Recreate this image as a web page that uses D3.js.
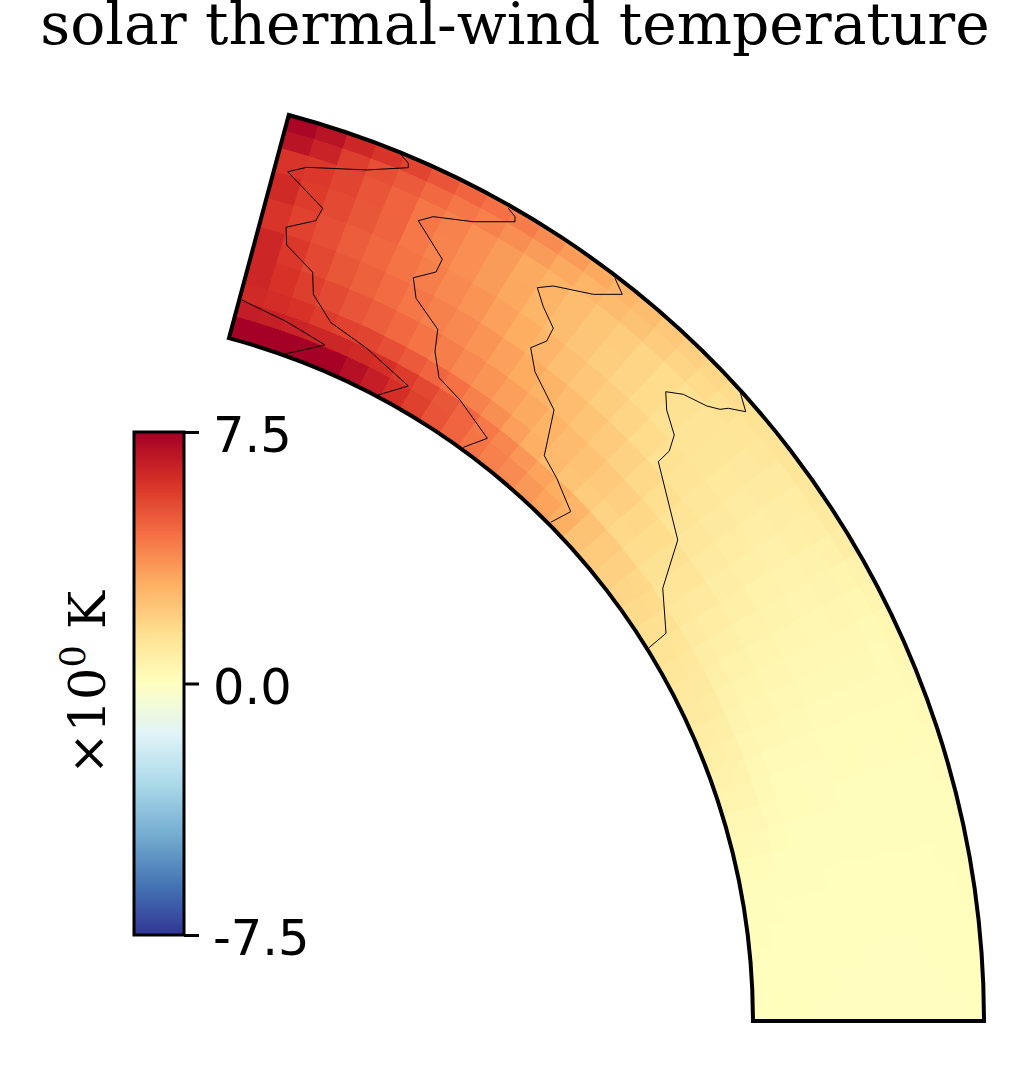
<!DOCTYPE html>
<html>
<head>
<meta charset="utf-8">
<script src="https://cdn.jsdelivr.net/npm/d3@7"></script>
<style>
  html, body { margin: 0; padding: 0; background: #fff; }
  svg { display: block; }
</style>
</head>
<body>
<script>
const titleText = 'solar thermal-wind temperature';
const unitBase = '×10', unitExp = '0', unitName = 'K';

// colour limits and tick labels
const colorLimits = [-7.5, 7.5];
const cbarTicks = [-7.5, 0, 7.5];
const cbarLabels = ['-7.5', '0.0', '7.5'];

// RdYlBu_r stops
const cmapColors = ['#313695', '#4575b4', '#74add1', '#abd9e9', '#e0f3f8', '#ffffbf', '#fee090', '#fdae61', '#f46d43', '#d73027', '#a50026'];

// cell edges: latitude in degrees, radius in units of the outer radius
const latEdges = [0, 1.875, 3.75, 5.625, 7.5, 9.375, 11.25, 13.125, 15, 16.875, 18.75, 20.625, 22.5, 24.375, 26.25, 28.125, 30, 31.875, 33.75, 35.625, 37.5, 39.375, 41.25, 43.125, 45, 46.875, 48.75, 50.625, 52.5, 54.375, 56.25, 58.125, 60, 61.875, 63.75, 65.625, 67.5, 69.375, 71.25, 73.125, 75];
const radEdges = [0.7537, 0.760, 0.778, 0.795, 0.815, 0.845, 0.877, 0.909, 0.938, 0.964, 0.983, 0.996, 1.0];

// temperature in K, one line per radius (inner to outer), one value per latitude cell
const temp0 = [0.06, 0.06, 0.07, 0.08, 0.1, 0.12, 0.2, 0.3, 0.4, 0.52, 0.64, 0.76, 0.88, 0.98, 1.08, 1.2, 1.35, 1.5, 1.66, 1.82, 1.98, 2.16, 2.4, 3.0, 3.3, 3.55, 3.85, 4.1, 4.4, 4.75, 5.15, 5.6, 6.1, 6.6, 7.0, 7.5, 7.6, 7.6, 7.6, 7.7];
const temp1 = [0.06, 0.06, 0.06, 0.08, 0.09, 0.11, 0.19, 0.29, 0.38, 0.5, 0.62, 0.74, 0.86, 0.96, 1.06, 1.18, 1.32, 1.48, 1.64, 1.8, 1.97, 2.15, 2.38, 2.95, 3.25, 3.5, 3.8, 4.05, 4.35, 4.72, 5.12, 5.58, 6.05, 6.55, 7.0, 7.45, 7.6, 7.6, 7.6, 7.6];
const temp2 = [0.05, 0.05, 0.06, 0.07, 0.08, 0.1, 0.17, 0.27, 0.36, 0.46, 0.56, 0.66, 0.78, 0.9, 1.02, 1.1, 1.28, 1.45, 1.62, 1.78, 1.95, 2.14, 2.4, 2.75, 3.0, 3.25, 3.55, 3.9, 4.25, 4.7, 5.05, 5.4, 5.7, 6.05, 6.2, 6.3, 6.3, 6.4, 6.5, 6.6];
const temp3 = [0.05, 0.05, 0.05, 0.06, 0.07, 0.09, 0.11, 0.16, 0.22, 0.28, 0.34, 0.43, 0.52, 0.62, 0.73, 0.85, 0.98, 1.12, 1.28, 1.42, 1.55, 1.72, 1.88, 2.1, 2.35, 2.65, 2.95, 3.35, 3.75, 4.05, 4.4, 4.7, 4.95, 5.25, 5.5, 5.55, 5.7, 5.95, 6.1, 6.2];
const temp4 = [0.04, 0.05, 0.05, 0.06, 0.06, 0.08, 0.1, 0.12, 0.15, 0.2, 0.26, 0.33, 0.42, 0.5, 0.6, 0.72, 0.88, 1.05, 1.25, 1.42, 1.6, 1.78, 2.0, 2.2, 2.4, 2.62, 2.82, 3.1, 3.35, 3.6, 3.85, 4.1, 4.35, 4.6, 4.85, 5.1, 5.35, 5.65, 5.95, 6.3];
const temp5 = [0.04, 0.04, 0.05, 0.05, 0.06, 0.07, 0.09, 0.11, 0.13, 0.17, 0.22, 0.28, 0.35, 0.42, 0.5, 0.6, 0.72, 0.85, 1.0, 1.18, 1.32, 1.5, 1.7, 1.92, 2.12, 2.35, 2.58, 2.82, 3.05, 3.3, 3.6, 3.85, 4.05, 4.3, 4.55, 4.8, 5.05, 5.4, 5.8, 6.3];
const temp6 = [0.04, 0.04, 0.04, 0.05, 0.06, 0.07, 0.08, 0.1, 0.12, 0.15, 0.19, 0.24, 0.3, 0.37, 0.44, 0.53, 0.63, 0.75, 0.88, 1.02, 1.18, 1.3, 1.42, 1.62, 1.85, 2.05, 2.28, 2.5, 2.75, 3.0, 3.3, 3.6, 3.85, 4.1, 4.35, 4.65, 4.9, 5.25, 5.55, 5.9];
const temp7 = [0.04, 0.04, 0.04, 0.05, 0.05, 0.06, 0.08, 0.09, 0.11, 0.14, 0.18, 0.22, 0.28, 0.34, 0.41, 0.49, 0.58, 0.68, 0.8, 0.93, 1.07, 1.2, 1.32, 1.42, 1.62, 1.82, 2.05, 2.3, 2.55, 2.8, 3.12, 3.42, 3.72, 4.0, 4.25, 4.75, 5.05, 5.35, 5.7, 6.2];
const temp8 = [0.04, 0.04, 0.05, 0.05, 0.06, 0.07, 0.08, 0.1, 0.12, 0.15, 0.19, 0.24, 0.3, 0.36, 0.44, 0.52, 0.62, 0.72, 0.84, 0.98, 1.1, 1.22, 1.32, 1.42, 1.6, 1.85, 2.1, 2.32, 2.58, 2.82, 3.1, 3.42, 3.72, 4.02, 4.3, 4.75, 5.1, 5.5, 5.8, 5.9];
const temp9 = [0.04, 0.05, 0.05, 0.06, 0.07, 0.08, 0.09, 0.1, 0.11, 0.14, 0.18, 0.22, 0.24, 0.3, 0.4, 0.5, 0.66, 0.76, 0.88, 1.0, 1.14, 1.28, 1.4, 1.62, 1.85, 2.1, 2.38, 2.62, 2.8, 3.1, 3.42, 3.75, 4.05, 4.3, 4.6, 4.95, 5.25, 5.65, 6.4, 6.9];
const temp10 = [0.05, 0.05, 0.06, 0.07, 0.08, 0.1, 0.11, 0.12, 0.14, 0.18, 0.22, 0.27, 0.33, 0.4, 0.5, 0.62, 0.84, 0.96, 1.1, 1.22, 1.3, 1.36, 1.55, 1.78, 2.0, 2.25, 2.55, 2.8, 3.1, 3.45, 3.8, 4.12, 4.4, 4.72, 5.1, 5.5, 5.9, 6.3, 6.9, 7.3];
const temp11 = [0.05, 0.06, 0.06, 0.07, 0.09, 0.1, 0.11, 0.12, 0.14, 0.18, 0.22, 0.27, 0.33, 0.4, 0.5, 0.62, 0.82, 0.93, 1.05, 1.18, 1.28, 1.38, 1.45, 1.7, 1.92, 2.18, 2.45, 2.72, 3.0, 3.3, 3.65, 3.98, 4.3, 4.62, 5.0, 5.4, 5.8, 6.25, 6.9, 7.4];
const tempRows = [temp0, temp1, temp2, temp3, temp4, temp5, temp6, temp7, temp8, temp9, temp10, temp11];

// contour lines, [x, y] in the meridional plane, same units as radEdges
const contour70 = [[0.2086, 0.7687], [0.2566, 0.7455], [0.2974, 0.7207], [0.2548, 0.7111]];
const contour56 = [[0.3774, 0.9251], [0.3862, 0.9144], [0.3862, 0.9097], [0.3419, 0.9073], [0.2779, 0.9101], [0.2577, 0.9054], [0.2950, 0.8664], [0.2875, 0.8532], [0.2559, 0.8462], [0.2566, 0.8273], [0.2843, 0.7982], [0.2850, 0.7747], [0.3038, 0.7445], [0.3419, 0.7172], [0.3862, 0.6770], [0.3543, 0.6674]];
const contour42 = [[0.4929, 0.8664], [0.5000, 0.8575], [0.5000, 0.8521], [0.4555, 0.8521], [0.4129, 0.8575], [0.3969, 0.8532], [0.4225, 0.8121], [0.4158, 0.7985], [0.3916, 0.7924], [0.3945, 0.7705], [0.4176, 0.7374], [0.4147, 0.7135], [0.4190, 0.6858], [0.4414, 0.6620], [0.4705, 0.6212], [0.4449, 0.6116]];
const contour28 = [[0.6066, 0.7918], [0.6144, 0.7747], [0.5835, 0.7747], [0.5408, 0.7836], [0.5238, 0.7818], [0.5302, 0.7615], [0.5408, 0.7385], [0.5338, 0.7249], [0.5167, 0.7178], [0.5213, 0.6922], [0.5416, 0.6514], [0.5312, 0.6027], [0.5445, 0.5786], [0.5594, 0.5430], [0.5381, 0.5317]];
const contour14 = [[0.7399, 0.6709], [0.7460, 0.6496], [0.7274, 0.6532], [0.7186, 0.6521], [0.7044, 0.6557], [0.6794, 0.6681], [0.6607, 0.6709], [0.6617, 0.6514], [0.6698, 0.6247], [0.6645, 0.6077], [0.6528, 0.5963], [0.6735, 0.5128], [0.6575, 0.4613], [0.6610, 0.4133], [0.6429, 0.3980]];
const contours = [contour70, contour56, contour42, contour28, contour14];

const svgWidth = 1031,
  svgHeight = 1068;
const svg = d3.select('body').append('svg')
  .attr('width', svgWidth)
  .attr('height', svgHeight);

// plane scales, the wedge centre sits at x = 0, y = 0
const xScale = d3.scaleLinear().domain([0, 1]).range([46, 984]);
const yScale = d3.scaleLinear().domain([0, 1]).range([1021, 83]);
const radScale = d3.scaleLinear().domain([0, 1]).range([0, 938]);
const latScale = d3.scaleLinear().domain([0, 90]).range([Math.PI / 2, 0]);

const colorStops = d3.range(cmapColors.length).map(i => colorLimits[0] + i * (colorLimits[1] - colorLimits[0]) / (cmapColors.length - 1));
const color = d3.scaleLinear().domain(colorStops).range(cmapColors).clamp(true);

const arc = d3.arc();
const wedge = svg.append('g').attr('transform', `translate(${xScale(0)},${yScale(0)})`);

const cells = [];
tempRows.forEach((row, j) => {
  row.forEach((v, i) => {
    cells.push({ j: j, i: i, v: v });
  });
});

wedge.selectAll('path.cell')
  .data(cells)
  .enter()
  .append('path')
  .attr('class', 'cell')
  .attr('d', d => arc({
    innerRadius: radScale(radEdges[d.j]),
    outerRadius: radScale(radEdges[d.j + 1]),
    startAngle: latScale(latEdges[d.i + 1]),
    endAngle: latScale(latEdges[d.i])
  }))
  .attr('fill', d => color(d.v))
  .attr('stroke', d => color(d.v))
  .attr('stroke-width', 0.6)
  .attr('shape-rendering', 'crispEdges');

const line = d3.line().x(d => xScale(d[0])).y(d => yScale(d[1]));
svg.selectAll('path.contour')
  .data(contours)
  .enter()
  .append('path')
  .attr('class', 'contour')
  .attr('d', line)
  .attr('fill', 'none')
  .attr('stroke', '#000')
  .attr('stroke-width', 1);

wedge.append('path')
  .attr('d', arc({
    innerRadius: radScale(radEdges[0]),
    outerRadius: radScale(radEdges[radEdges.length - 1]),
    startAngle: latScale(latEdges[latEdges.length - 1]),
    endAngle: latScale(latEdges[0])
  }))
  .attr('fill', 'none')
  .attr('stroke', '#000')
  .attr('stroke-width', 4)
  .attr('stroke-linejoin', 'miter');

// title
svg.append('text')
  .attr('x', 515)
  .attr('y', 44)
  .attr('text-anchor', 'middle')
  .attr('font-family', '"DejaVu Serif"')
  .attr('font-size', 58.3)
  .text(titleText);

// colour bar
const cbarX = 134, cbarW = 50, cbarTop = 432, cbarBottom = 935;
const cbarScale = d3.scaleLinear().domain(colorLimits).range([cbarBottom, cbarTop]);
const cbar = svg.append('g');
const cbarSteps = d3.range(cbarBottom - cbarTop);
cbar.selectAll('rect')
  .data(cbarSteps)
  .enter()
  .append('rect')
  .attr('x', cbarX)
  .attr('y', d => cbarTop + d)
  .attr('width', cbarW)
  .attr('height', 1.5)
  .attr('fill', d => color(cbarScale.invert(cbarTop + d + 0.5)));
cbar.append('rect')
  .attr('x', cbarX)
  .attr('y', cbarTop)
  .attr('width', cbarW)
  .attr('height', cbarBottom - cbarTop)
  .attr('fill', 'none')
  .attr('stroke', '#000')
  .attr('stroke-width', 3);

const cbarAxis = d3.axisRight(cbarScale)
  .tickValues(cbarTicks)
  .tickFormat((d, i) => cbarLabels[i])
  .tickSize(15)
  .tickPadding(14);
const axisG = svg.append('g')
  .attr('transform', `translate(${cbarX + cbarW},0)`)
  .call(cbarAxis);
axisG.select('.domain').remove();
axisG.selectAll('line').attr('stroke', '#000').attr('stroke-width', 3);
axisG.selectAll('text')
  .attr('fill', '#000')
  .attr('font-family', '"DejaVu Sans"')
  .attr('font-size', 49.5)
  .attr('dy', '0.4em');

const unit = svg.append('text')
  .attr('transform', 'translate(105,683) rotate(-90)')
  .attr('text-anchor', 'middle')
  .attr('font-family', '"DejaVu Serif"')
  .attr('font-size', 51);
unit.append('tspan').text(unitBase);
unit.append('tspan').attr('dy', -20).attr('font-size', 35).text(unitExp);
unit.append('tspan').attr('dy', 20).text('\u00a0' + unitName);
</script>
</body>
</html>
